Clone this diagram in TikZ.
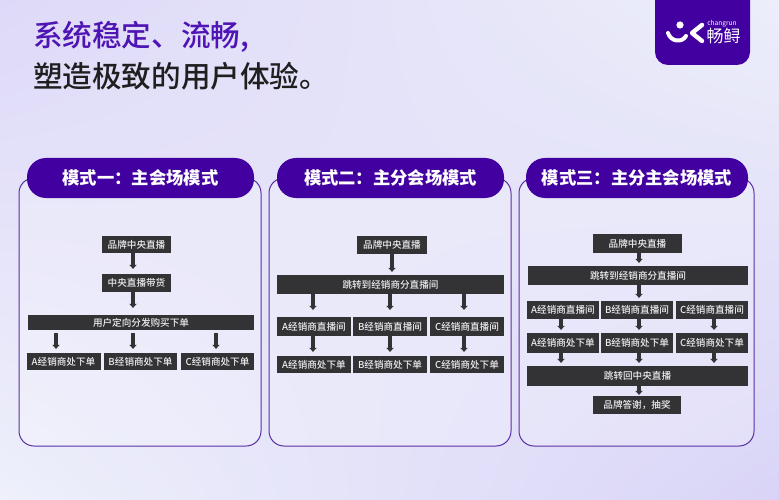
\documentclass[tikz,border=0pt]{standalone}
\usepackage{fontspec}
\usepackage{xcolor}
\usetikzlibrary{arrows.meta,shadings}
\newfontfamily\cjkfont{Noto Sans CJK SC}
\newfontfamily\cjkmedium[UprightFont=* Medium]{Noto Sans CJK SC}
\definecolor{brandpurple}{HTML}{41009F}
\definecolor{titlepurple}{HTML}{4F14B4}
\definecolor{panelline}{HTML}{5B2FA6}
\definecolor{boxgray}{HTML}{333335}
\definecolor{boxtext}{HTML}{EDEDF0}
\definecolor{bgul}{HTML}{DED9F8}
\definecolor{bgur}{HTML}{ECEEFA}
\definecolor{bgll}{HTML}{EEF0FB}
\definecolor{bglr}{HTML}{D9D4F7}
\tikzset{
	stepbox/.style={fill=boxgray,text=boxtext,inner sep=0pt,font=\cjkmedium\fontsize{9.6}{10}\selectfont},
	flow/.style={-{Triangle[length=4pt,width=7.5pt]},line width=3.4pt,draw=boxgray},
	panelbox/.style={draw=panelline,line width=1pt,fill=white,fill opacity=.22,draw opacity=1,rounded corners=15pt,inner sep=0pt},
	headbox/.style={fill=brandpurple,text=white,rounded corners=19pt,inner sep=0pt,minimum height=40pt,font=\cjkfont\bfseries\fontsize{17.3}{18}\selectfont},
	titletext/.style={anchor=west,inner sep=0pt,font=\cjkmedium\fontsize{29.6}{31}\selectfont}
}
\begin{document}
\begin{tikzpicture}[x=1pt,y=-1pt]
	\useasboundingbox (0,0) rectangle (779,500);
	\shade[upper left=bgul,upper right=bgur,lower left=bgll,lower right=bglr] (0,0) rectangle (779,500);

	% title
	\node[titletext,text=titlepurple] (title1) at (33,37) {系统稳定、流畅,};
	\node[titletext,text=black!88]    (title2) at (33,76) {塑造极致的用户体验。};

	% logo
	\begin{scope}
		\clip (640,0) rectangle (779,80);
		\fill[brandpurple,rounded corners=13pt] (655,-20) rectangle (750,65);
	\end{scope}
	\fill[white] (680,25) circle (3.6);
	\draw[white,line width=4pt,line cap=round] (668,33) .. controls (671,42) and (682,43) .. (686,36);
	\draw[white,line width=4.4pt,line cap=round,line join=round] (702,25) -- (692,33) -- (702,41);
	\node[text=white,inner sep=0pt,font=\cjkfont\itshape\fontsize{6.6}{7}\selectfont] (logoen) at (722,24) {changrun};
	\node[text=white,inner sep=0pt,font=\cjkfont\fontsize{17}{18}\selectfont] (logocn) at (723.5,36) {畅鲟};

	% panels
	\node[panelbox,minimum width=242pt,minimum height=268pt] (panel1) at (140,312) {};
	\node[panelbox,minimum width=242pt,minimum height=268pt] (panel2) at (390,312) {};
	\node[panelbox,minimum width=235pt,minimum height=268pt] (panel3) at (636.5,312) {};
	\node[headbox,minimum width=227pt] (head1) at (140.5,178) {模式一：主会场模式};
	\node[headbox,minimum width=227pt] (head2) at (390.5,178) {模式二：主分会场模式};
	\node[headbox,minimum width=222pt] (head3) at (637,178) {模式三：主分主会场模式};

	% mode one
	\node[stepbox,minimum width=69pt,minimum height=17pt] (brand1) at (136.5,244.5) {品牌中央直播};
	\node[stepbox,minimum width=69pt,minimum height=18pt] (sale1) at (136.5,283) {中央直播带货};
	\node[stepbox,minimum width=226pt,minimum height=15pt] (user1) at (141,322.5) {用户定向分发购买下单};
	\node[stepbox,minimum width=74pt,minimum height=17pt] (ordera1) at (63.5,361.5) {A经销商处下单};
	\node[stepbox,minimum width=73pt,minimum height=17pt] (orderb1) at (140.5,361.5) {B经销商处下单};
	\node[stepbox,minimum width=73pt,minimum height=17pt] (orderc1) at (217.5,361.5) {C经销商处下单};

	\draw[flow,shorten >=5pt] ([xshift=-3.5pt]brand1.south) -- ([xshift=-3.5pt]sale1.north);
	\draw[flow,shorten >=7pt] ([xshift=-3.5pt]sale1.south) -- ([xshift=-3.5pt]sale1.south |- user1.north);
	\draw[flow,shorten <=3pt,shorten >=4pt] ([xshift=-7.5pt]ordera1.north |- user1.south) -- ([xshift=-7.5pt]ordera1.north);
	\draw[flow,shorten <=3pt,shorten >=4pt] ([xshift=-7.5pt]orderb1.north |- user1.south) -- ([xshift=-7.5pt]orderb1.north);
	\draw[flow,shorten <=3pt,shorten >=4pt] ([xshift=-1.5pt]orderc1.north |- user1.south) -- ([xshift=-1.5pt]orderc1.north);

	% mode two
	\node[stepbox,minimum width=70pt,minimum height=18pt] (brand2) at (392,245) {品牌中央直播};
	\node[stepbox,minimum width=227pt,minimum height=19pt] (jump2) at (390.5,284.5) {跳转到经销商分直播间};
	\node[stepbox,minimum width=74pt,minimum height=19pt] (rooma2) at (314,326.5) {A经销商直播间};
	\node[stepbox,minimum width=74pt,minimum height=19pt] (roomb2) at (390,326.5) {B经销商直播间};
	\node[stepbox,minimum width=74pt,minimum height=19pt] (roomc2) at (467,326.5) {C经销商直播间};
	\node[stepbox,minimum width=74pt,minimum height=17pt] (ordera2) at (314,364.5) {A经销商处下单};
	\node[stepbox,minimum width=74pt,minimum height=17pt] (orderb2) at (390,364.5) {B经销商处下单};
	\node[stepbox,minimum width=74pt,minimum height=17pt] (orderc2) at (467,364.5) {C经销商处下单};

	\draw[flow,shorten >=3pt] (brand2.south) -- (brand2.south |- jump2.north);
	\draw[flow,shorten >=7pt] ([xshift=-1pt]rooma2.north |- jump2.south) -- ([xshift=-1pt]rooma2.north);
	\draw[flow,shorten >=7pt] (roomb2.north |- jump2.south) -- (roomb2.north);
	\draw[flow,shorten >=7pt] ([xshift=-3pt]roomc2.north |- jump2.south) -- ([xshift=-3pt]roomc2.north);
	\draw[flow,shorten >=4pt] ([xshift=-1pt]rooma2.south) -- ([xshift=-1pt]ordera2.north);
	\draw[flow,shorten >=4pt] (roomb2.south) -- (orderb2.north);
	\draw[flow,shorten >=4pt] ([xshift=-3pt]roomc2.south) -- ([xshift=-3pt]orderc2.north);

	% mode three
	\node[stepbox,minimum width=89pt,minimum height=19pt] (brand3) at (637.5,243.5) {品牌中央直播};
	\node[stepbox,minimum width=220pt,minimum height=19pt] (jump3) at (638,275.5) {跳转到经销商分直播间};
	\node[stepbox,minimum width=72pt,minimum height=18pt] (rooma3) at (563,310) {A经销商直播间};
	\node[stepbox,minimum width=72pt,minimum height=18pt] (roomb3) at (637,310) {B经销商直播间};
	\node[stepbox,minimum width=72pt,minimum height=18pt] (roomc3) at (712,310) {C经销商直播间};
	\node[stepbox,minimum width=72pt,minimum height=20pt] (ordera3) at (563,343) {A经销商处下单};
	\node[stepbox,minimum width=72pt,minimum height=20pt] (orderb3) at (637,343) {B经销商处下单};
	\node[stepbox,minimum width=72pt,minimum height=20pt] (orderc3) at (712,343) {C经销商处下单};
	\node[stepbox,minimum width=221pt,minimum height=20pt] (back3) at (637.5,376) {跳转回中央直播};
	\node[stepbox,minimum width=88pt,minimum height=18pt] (gift3) at (637,405) {品牌答谢，抽奖};

	\draw[flow,shorten >=3pt] ([xshift=1.5pt]brand3.south) -- ([xshift=1.5pt]brand3.south |- jump3.north);
	\draw[flow,shorten >=3pt] ([xshift=2pt]roomb3.north |- jump3.south) -- ([xshift=2pt]roomb3.north);
	\draw[flow,shorten >=3pt] ([xshift=-2pt]rooma3.south) -- ([xshift=-2pt]ordera3.north);
	\draw[flow,shorten >=3pt] ([xshift=2pt]roomb3.south) -- ([xshift=2pt]orderb3.north);
	\draw[flow,shorten >=3pt] ([xshift=2pt]roomc3.south) -- ([xshift=2pt]orderc3.north);
	\draw[flow,shorten >=3pt] ([xshift=-2pt]ordera3.south) -- ([xshift=-2pt]ordera3.south |- back3.north);
	\draw[flow,shorten >=3pt] ([xshift=2pt]orderb3.south) -- ([xshift=2pt]orderb3.south |- back3.north);
	\draw[flow,shorten >=3pt] ([xshift=2pt]orderc3.south) -- ([xshift=2pt]orderc3.south |- back3.north);
	\draw[flow,shorten >=1pt] ([xshift=1.5pt]back3.south) -- ([xshift=2pt]gift3.north);
\end{tikzpicture}
\end{document}
